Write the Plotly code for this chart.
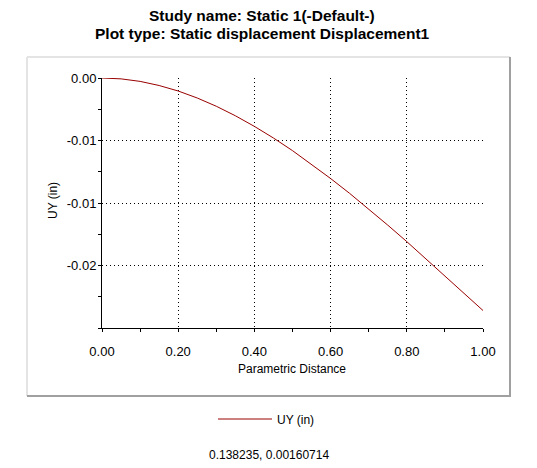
import plotly.graph_objects as go

# Data
param_distance = [0.00, 0.05, 0.10, 0.15, 0.20, 0.25, 0.30, 0.35, 0.40, 0.45, 0.50,
                  0.55, 0.60, 0.65, 0.70, 0.75, 0.80, 0.85, 0.90, 0.95, 1.00]
uy_in = [0.0, -0.00007, -0.00027, -0.00060, -0.00104, -0.00160, -0.00226, -0.00302,
         -0.00387, -0.00480, -0.00581, -0.00689, -0.00804, -0.00923, -0.01048,
         -0.01177, -0.01309, -0.01445, -0.01582, -0.01721, -0.01860]

y_tickvals = [0.0, -0.005, -0.01, -0.015, -0.02]
y_ticktext = ["0.00", "-0.01", "-0.01", "-0.02", ""]
y_minorvals = [-0.0025, -0.0075, -0.0125, -0.0175]
x_tickvals = [0.0, 0.2, 0.4, 0.6, 0.8, 1.0]
x_ticktext = ["0.00", "0.20", "0.40", "0.60", "0.80", "1.00"]

title_line1 = "Study name: Static 1(-Default-)"
title_line2 = "Plot type: Static displacement Displacement1"
status_text = "0.138235, 0.00160714"

FONT = "Liberation Sans, Arial, sans-serif"
LINE_COLOR = "#990000"

fig = go.Figure()
fig.add_trace(go.Scatter(x=param_distance, y=uy_in, mode="lines", name="UY (in)",
                         line=dict(color=LINE_COLOR, width=1)))

# The page body has an 8px margin; work in window pixels and shift by it.
OFF = 8
W, H = 537 - OFF, 468 - OFF
PLOT_L, PLOT_R, PLOT_T, PLOT_B = 102, 483, 78, 328  # window pixels
L = PLOT_L - OFF
T = PLOT_T - OFF
R = W - (PLOT_R - OFF)
B = H - (PLOT_B - OFF)
pw, ph = PLOT_R - PLOT_L, PLOT_B - PLOT_T


def px(x):
    return (x - PLOT_L) / pw


def py(y):
    return (PLOT_B - y) / ph


fig.update_layout(
    width=W, height=H,
    margin=dict(l=L, r=R, t=T, b=B, pad=0),
    paper_bgcolor="white", plot_bgcolor="white",
    font=dict(family=FONT, color="black", size=12),
    showlegend=True,
    legend=dict(x=px(213), y=py(419), xanchor="left", yanchor="middle",
                bgcolor="rgba(0,0,0,0)", font=dict(size=12), itemwidth=54),
    xaxis=dict(range=[0, 1], tickmode="array", tickvals=x_tickvals, ticktext=x_ticktext,
               ticks="outside", ticklen=3, tickcolor="black", tickwidth=1,
               minor=dict(dtick=0.1, tick0=0, ticks="outside", ticklen=3, tickcolor="black", showgrid=False),
               showline=True, linecolor="black", linewidth=1,
               showgrid=True, gridcolor="black", griddash="1px,3px", gridwidth=1,
               zeroline=False, tickfont=dict(size=13), ticklabelstandoff=8),
    yaxis=dict(range=[-0.02, 0], tickmode="array", tickvals=y_tickvals, ticktext=y_ticktext,
               ticks="outside", ticklen=3, tickcolor="black", tickwidth=1,
               minor=dict(tickvals=y_minorvals, ticks="outside", ticklen=3, tickcolor="black", showgrid=False),
               showline=True, linecolor="black", linewidth=1,
               showgrid=True, gridcolor="black", griddash="1px,3px", gridwidth=1,
               zeroline=False, tickfont=dict(size=13), ticklabelstandoff=-1),
    xaxis2=dict(overlaying="x", anchor="y", side="bottom", range=[0, 1],
                tickmode="linear", tick0=0, dtick=0.1, ticks="inside", ticklen=3,
                tickcolor="black", showticklabels=False, showgrid=False, zeroline=False,
                showline=False),
    yaxis2=dict(overlaying="y", anchor="x", side="left", range=[-0.02, 0],
                tickmode="linear", tick0=0, dtick=0.0025, ticks="inside", ticklen=3,
                tickcolor="black", showticklabels=False, showgrid=False, zeroline=False,
                showline=False),
)

annotations = [
    dict(text="<b>" + title_line1 + "</b>", x=px(262), y=py(15), font=dict(size=15.5)),
    dict(text="<b>" + title_line2 + "</b>", x=px(262), y=py(33), font=dict(size=15.5)),
    dict(text="Parametric Distance", x=px(292), y=py(369), font=dict(size=12)),
    dict(text="UY (in)", x=px(53), y=py(200), textangle=-90, font=dict(size=12)),
    dict(text=status_text, x=px(269), y=py(455), font=dict(size=12)),
]
for a in annotations:
    fig.add_annotation(xref="paper", yref="paper", showarrow=False,
                       xanchor="center", yanchor="middle", **a)

# Frame around the chart area (light top/left, dark bottom/right)
frame = [
    (27, 57, 27, 396, "#e4e4e4"),
    (27, 57, 510, 57, "#e4e4e4"),
    (510, 57, 510, 397, "#a0a0a0"),
    (27, 396, 510, 396, "#a0a0a0"),
]
for x0, y0, x1, y1, c in frame:
    fig.add_shape(type="line", xref="paper", yref="paper",
                  x0=px(x0), y0=py(y0), x1=px(x1), y1=py(y1),
                  line=dict(color=c, width=2), layer="below")

fig.write_html("out.html")
